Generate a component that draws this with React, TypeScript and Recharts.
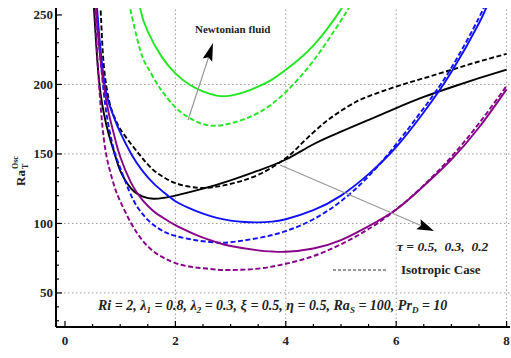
import React from "react";
import { LineChart, Line, XAxis, YAxis, ReferenceLine } from "recharts";

// [k, Ra_T^Osc] pairs
const greenSolid = [[1.3, 275], [1.36, 255], [1.5, 238], [1.75, 220], [2.0, 208], [2.25, 200], [2.5, 195], [2.75, 192], [3.0, 192], [3.25, 194.5], [3.5, 198.5], [3.75, 203.5], [4.0, 210.5], [4.25, 218.5], [4.5, 228], [4.75, 240], [5.0, 254], [5.1, 261]];
const greenDashed = [[1.12, 270], [1.18, 255], [1.36, 225], [1.5, 212], [1.66, 201], [1.8, 193], [2.0, 183.5], [2.25, 176], [2.5, 171.5], [2.75, 170.3], [3.0, 172], [3.25, 175], [3.5, 179.5], [3.75, 186], [4.0, 194.5], [4.25, 205], [4.5, 217], [4.75, 231], [5.0, 246], [5.15, 255.5], [5.25, 262]];
const blackSolid = [[0.5, 272], [0.6, 210], [0.7, 180], [0.8, 163], [0.9, 150], [1.0, 138], [1.2, 125], [1.4, 119.5], [1.6, 117.8], [1.8, 118.5], [2.0, 120], [2.5, 125], [3.0, 131], [3.5, 138], [4.0, 146], [4.5, 157], [5.0, 166], [5.5, 174.5], [6.0, 183], [6.5, 191], [7.0, 198], [7.5, 204.5], [8.0, 210.7]];
const blackDashed = [[0.6, 280], [0.65, 250], [0.7, 215], [0.8, 188], [0.9, 176], [1.0, 168], [1.2, 157], [1.4, 147], [1.6, 138.5], [1.8, 133], [2.0, 129], [2.25, 126.5], [2.5, 125.5], [2.75, 126.5], [3.0, 128.5], [3.5, 135], [4.0, 147], [4.25, 156], [4.5, 165.5], [4.75, 174], [5.0, 181], [5.25, 187], [5.5, 191.5], [6.0, 198.5], [6.5, 204.5], [7.0, 210.5], [7.5, 216.5], [8.0, 222]];
const blueSolid = [[0.55, 275], [0.6, 245], [0.7, 205], [0.8, 186], [0.9, 175], [1.0, 165.5], [1.2, 150], [1.4, 138], [1.6, 129], [1.8, 122], [2.0, 116], [2.25, 111], [2.5, 107], [2.75, 104], [3.0, 102], [3.25, 101], [3.5, 100.8], [3.75, 101.3], [4.0, 103], [4.5, 109.5], [5.0, 120], [5.5, 135.5], [6.0, 155], [6.5, 180], [7.0, 209], [7.5, 244], [7.7, 262]];
const blueDashed = [[0.55, 275], [0.6, 240], [0.7, 195], [0.8, 168], [0.9, 151], [1.0, 140], [1.2, 120], [1.4, 107], [1.6, 99], [1.8, 94], [2.0, 91], [2.25, 88.8], [2.5, 87.2], [2.75, 86.3], [3.0, 86.5], [3.5, 89.5], [4.0, 94.5], [4.5, 103], [5.0, 116], [5.5, 134], [6.0, 157], [6.5, 183], [7.0, 212], [7.5, 248], [7.7, 265]];
const purpleSolid = [[0.53, 275], [0.6, 235], [0.7, 200], [0.8, 178], [0.9, 162], [1.0, 148], [1.2, 129], [1.4, 117], [1.6, 109], [1.8, 103.5], [2.0, 98.8], [2.25, 94], [2.5, 89.8], [2.75, 86.4], [3.0, 83.8], [3.5, 80.6], [3.75, 79.8], [4.0, 79.6], [4.5, 82], [5.0, 88], [5.5, 98], [6.0, 110], [6.5, 127], [7.0, 146], [7.5, 169], [8.0, 196.5]];
const purpleDashed = [[0.52, 275], [0.6, 210], [0.7, 162], [0.8, 140], [0.9, 126], [1.0, 116], [1.2, 100], [1.4, 88], [1.6, 80], [1.8, 75], [2.0, 71.5], [2.25, 69], [2.5, 67.8], [2.75, 66.8], [3.0, 66.5], [3.5, 67.5], [4.0, 71], [4.5, 76.5], [5.0, 85], [5.5, 96], [6.0, 110], [6.5, 127.5], [7.0, 148], [7.5, 172], [8.0, 199]];

const xTicks = [0, 0.5, 1, 1.5, 2, 2.5, 3, 3.5, 4, 4.5, 5, 5.5, 6, 6.5, 7, 7.5, 8];
const yTicks = [30, 40, 50, 60, 70, 80, 90, 100, 110, 120, 130, 140, 150, 160, 170, 180, 190, 200, 210, 220, 230, 240, 250];
const xGrid = [2, 4, 6, 8];
const yGrid = [50, 100, 150, 200];

const SERIF = "'Liberation Serif', 'Times New Roman', serif";
const GREEN = "#22e622";
const BLUE = "#1010ff";
const PURPLE = "#880088";
const BLACK = "#000000";

const series = [
  { name: "gs", pts: greenSolid, color: GREEN, dash: false },
  { name: "gd", pts: greenDashed, color: GREEN, dash: true },
  { name: "ks", pts: blackSolid, color: BLACK, dash: false },
  { name: "kd", pts: blackDashed, color: BLACK, dash: true },
  { name: "bs", pts: blueSolid, color: BLUE, dash: false },
  { name: "bd", pts: blueDashed, color: BLUE, dash: true },
  { name: "ps", pts: purpleSolid, color: PURPLE, dash: false },
  { name: "pd", pts: purpleDashed, color: PURPLE, dash: true },
];

const BottomTick = (props: any) => {
  const { x, y, payload } = props;
  const major = payload.value % 2 === 0;
  return (
    <g>
      <line x1={x} x2={x} y1={y} y2={y - (major ? 6 : 3)} stroke="#000" strokeWidth={1.2} />
      {major && (
        <text x={x} y={y + 18} textAnchor="middle" fontFamily={SERIF} fontWeight="bold" fontSize={13} fill="#222">
          {payload.value}
        </text>
      )}
    </g>
  );
};

const TopTick = (props: any) => {
  const { x, y, payload } = props;
  const major = payload.value % 2 === 0;
  return <line x1={x} x2={x} y1={y} y2={y + (major ? 6 : 3)} stroke="#000" strokeWidth={1.2} />;
};

const LeftTick = (props: any) => {
  const { x, y, payload } = props;
  const major = payload.value % 50 === 0;
  return (
    <g>
      <line x1={x} x2={x + (major ? 6 : 3)} y1={y} y2={y} stroke="#000" strokeWidth={1.2} />
      {major && (
        <text x={x - 3} y={y + 4.5} textAnchor="end" fontFamily={SERIF} fontWeight="bold" fontSize={13} fill="#222">
          {payload.value}
        </text>
      )}
    </g>
  );
};

function arrowHead(x0: number, y0: number, tx: number, ty: number, len: number, half: number) {
  const dx = tx - x0;
  const dy = ty - y0;
  const d = Math.sqrt(dx * dx + dy * dy);
  const ux = dx / d;
  const uy = dy / d;
  const bx = tx - ux * len;
  const by = ty - uy * len;
  return `${tx},${ty} ${bx - uy * half},${by + ux * half} ${bx + ux * 3},${by + uy * 3} ${bx + uy * half},${by - ux * half}`;
}

const Annotations = () => (
  <svg width={511} height={358} style={{ position: "absolute", left: 0, top: 0, pointerEvents: "none" }}>
    {/* y label */}
    <g transform="translate(25,186) rotate(-90)" fontFamily={SERIF} fontWeight="bold" fill="#222">
      <text x={0} y={0} fontSize={13}>Ra</text>
      <text x={17} y={3} fontSize={8}>T</text>
      <text x={17} y={-7} fontSize={8}>Osc</text>
    </g>

    {/* Newtonian fluid */}
    <text x={195} y={33} fontFamily={SERIF} fontWeight="bold" fontSize={11} fill="#222">Newtonian fluid</text>
    <line x1={188} y1={120} x2={209} y2={56} stroke="#999" strokeWidth={1.2} />
    <polygon points={arrowHead(188, 120, 213, 43, 18, 5)} fill="#000" />

    {/* tau arrow */}
    <line x1={280} y1={165} x2={422} y2={226} stroke="#999" strokeWidth={1.2} />
    <polygon points={arrowHead(280, 165, 434, 231, 17, 5.5)} fill="#000" />
    <text x={397} y={251} fontFamily={SERIF} fontWeight="bold" fontStyle="italic" fontSize={13.5} fill="#222" xmlSpace="preserve">
      τ = 0.5,  0.3,  0.2
    </text>

    {/* isotropic legend */}
    <line x1={333} y1={270} x2={388} y2={270} stroke="#333" strokeWidth={1.2} strokeDasharray="3 2" />
    <text x={401} y={274} fontFamily={SERIF} fontWeight="bold" fontSize={13} fill="#222">Isotropic Case</text>

    {/* parameters */}
    <text x={98} y={310} fontFamily={SERIF} fontWeight="bold" fontStyle="italic" fontSize={14} fill="#222">
      Ri = 2, λ<tspan dy={3} fontSize={9}>1</tspan>
      <tspan dy={-3}> = 0.8, λ</tspan>
      <tspan dy={3} fontSize={9}>2</tspan>
      <tspan dy={-3}> = 0.3, ξ = 0.5, η = 0.5, Ra</tspan>
      <tspan dy={3} fontSize={9}>S</tspan>
      <tspan dy={-3}> = 100, Pr</tspan>
      <tspan dy={3} fontSize={9}>D</tspan>
      <tspan dy={-3}> = 10</tspan>
    </text>
  </svg>
);

export default function App() {
  return (
    <div style={{ position: "absolute", left: 0, top: 0, width: 511, height: 358, background: "#fff" }}>
      <LineChart width={511} height={358} margin={{ top: 8, right: 1, left: 0, bottom: 0 }}>
        <XAxis
          xAxisId="top"
          orientation="top"
          type="number"
          dataKey="x"
          domain={[-0.163, 8.062]}
          ticks={xTicks}
          height={0}
          tickSize={0}
          tickMargin={0}
          tick={<TopTick />}
          tickLine={false}
          axisLine={{ stroke: "#000", strokeWidth: 2 }}
          interval={0}
        />
        <XAxis
          type="number"
          dataKey="x"
          domain={[-0.163, 8.062]}
          ticks={xTicks}
          height={31}
          tickSize={0}
          tickMargin={0}
          tick={<BottomTick />}
          tickLine={false}
          axisLine={{ stroke: "#000", strokeWidth: 2 }}
          interval={0}
          allowDataOverflow
        />
        <YAxis
          type="number"
          domain={[25.5, 255]}
          ticks={yTicks}
          width={56}
          tickSize={0}
          tickMargin={0}
          tick={<LeftTick />}
          tickLine={false}
          axisLine={{ stroke: "#000", strokeWidth: 2 }}
          interval={0}
          allowDataOverflow
        />
        {xGrid.map((v) => (
          <ReferenceLine key={`gx${v}`} x={v} stroke="#999" strokeDasharray="1.5 2.5" />
        ))}
        {yGrid.map((v) => (
          <ReferenceLine key={`gy${v}`} y={v} stroke="#999" strokeDasharray="1.5 2.5" />
        ))}
        {series.map((s) => (
          <Line
            key={s.name}
            data={s.pts.map(([x, y]) => ({ x, y }))}
            dataKey="y"
            type="natural"
            stroke={s.color}
            strokeWidth={1.9}
            strokeDasharray={s.dash ? "5 2.5" : undefined}
            dot={false}
            activeDot={false}
            isAnimationActive={false}
          />
        ))}
      </LineChart>
      <Annotations />
    </div>
  );
}
